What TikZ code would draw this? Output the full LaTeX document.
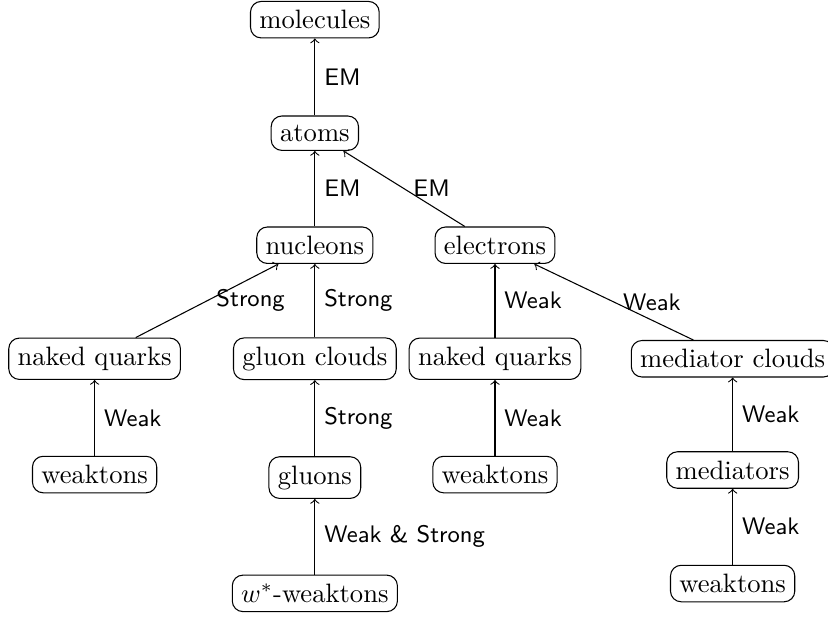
\documentclass[tikz,border=0pt]{standalone}
\begin{document}
\begin{tikzpicture}[box/.style={draw, rounded corners},
    lbl/.style={right, font=\small\sffamily}]
  \useasboundingbox (0, 0) rectangle (10.94, -8.14);
  \pgfmathsetmacro{\xa}{1.25}
  \pgfmathsetmacro{\xb}{4.16}
  \pgfmathsetmacro{\xc}{6.54}
  \pgfmathsetmacro{\xd}{9.68}
  \node[box] (molecules) at (\xb, -0.26) {molecules};
  \node[box] (atoms) at (\xb, -1.76) {atoms};
  \node[box] (nucleons) at (\xb, -3.24) {nucleons};
  \node[box] (electrons) at (\xc, -3.24) {electrons};
  \node[box] (nquarksa) at (\xa, -4.74) {naked quarks};
  \node[box] (gclouds) at (\xb, -4.74) {gluon clouds};
  \node[box] (nquarksb) at (\xc, -4.74) {naked quarks};
  \node[box] (mclouds) at (\xd, -4.74) {mediator clouds};
  \node[box] (weaktonsa) at (\xa, -6.27) {weaktons};
  \node[box] (gluons) at (\xb, -6.31) {gluons};
  \node[box] (weaktonsb) at (\xc, -6.27) {weaktons};
  \node[box] (mediators) at (\xd, -6.21) {mediators};
  \node[box] (wstar) at (\xb, -7.84) {$w^*$-weaktons};
  \node[box] (weaktonsc) at (\xd, -7.71) {weaktons};
  \draw[->] (atoms) -- node[lbl] {EM} (molecules);
  \draw[->] (nucleons) -- node[lbl] {EM} (atoms);
  \draw[->] (electrons) -- node[lbl] {EM} (atoms);
  \draw[->] (nquarksa) -- node[lbl] {Strong} (nucleons);
  \draw[->] (gclouds) -- node[lbl] {Strong} (nucleons);
  \draw[->] (nquarksb) -- node[lbl] {Weak} (electrons);
  \draw[->] (mclouds) -- node[lbl] {Weak} (electrons);
  \draw[->] (weaktonsa) -- node[lbl] {Weak} (nquarksa);
  \draw[->] (gluons) -- node[lbl] {Strong} (gclouds);
  \draw[->] (weaktonsb) -- node[lbl] {Weak} (nquarksb);
  \draw[->] (mediators) -- node[lbl] {Weak} (mclouds);
  \draw[->] (wstar) -- node[lbl] {Weak \& Strong} (gluons);
  \draw[->] (weaktonsc) -- node[lbl] {Weak} (mediators);
\end{tikzpicture}
\end{document}
